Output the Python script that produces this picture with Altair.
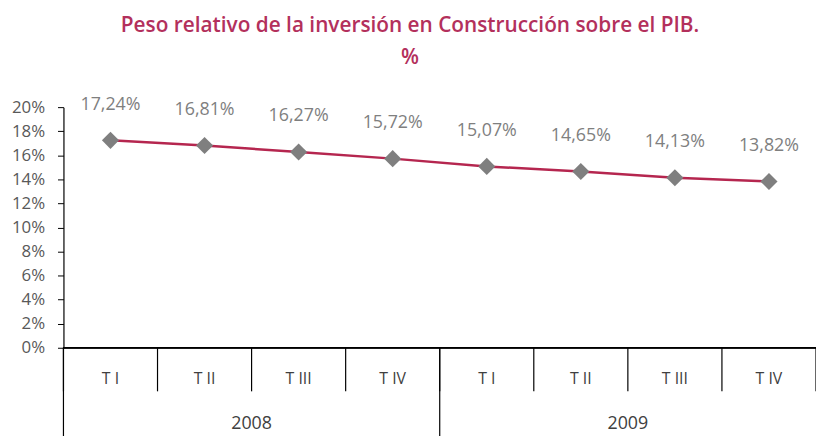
import altair as alt
import pandas as pd

quarters = ["T I", "T II", "T III", "T IV", "T I", "T II", "T III", "T IV"]
years = ["2008", "2008", "2008", "2008", "2009", "2009", "2009", "2009"]
values = [17.24, 16.81, 16.27, 15.72, 15.07, 14.65, 14.13, 13.82]
value_labels = ["17,24%", "16,81%", "16,27%", "15,72%", "15,07%", "14,65%", "14,13%", "13,82%"]
y_ticks = [0, 2, 4, 6, 8, 10, 12, 14, 16, 18, 20]
year_names = ["2008", "2009"]

n = len(quarters)
df = pd.DataFrame({"pos": [i + 0.5 for i in range(n)], "quarter": quarters, "year": years,
                   "value": values, "label": value_labels})
sep = pd.DataFrame({"pos": list(range(n + 1))})
ystart = pd.DataFrame({"pos": [float(years.index(y)) for y in year_names]})
ymid = pd.DataFrame({"pos": [years.index(y) + years.count(y) / 2 for y in year_names],
                     "year": year_names})

W, H = 760, 243
FONT = "Open Sans"

xs = alt.Scale(domain=[0, n], nice=False, zero=False)
ys = alt.Scale(domain=[0, 20])
X = alt.X("pos:Q", scale=xs, axis=None)
y_axis = alt.Axis(
    values=y_ticks, labelExpr="datum.value + '%'", grid=False, title=None,
    labelOverlap=False, labelFlush=False, labelBound=False,
    domainColor="#000000", tickColor="#000000", tickSize=6, labelPadding=13,
    labelColor="#595959", labelFontSize=17, labelFont=FONT, domainWidth=1.2)
Y = alt.Y("value:Q", scale=ys, axis=y_axis)

line = alt.Chart(df).mark_line(color="#B5264F", strokeWidth=2.5).encode(x=X, y=Y)

points = alt.Chart(df).mark_point(shape="diamond", filled=True, size=300, color="#7F7F7F", opacity=1).encode(
    x=X, y=Y)

labels = alt.Chart(df).mark_text(dy=-36, fontSize=18, color="#7F7F7F", font=FONT).encode(
    x=X, y=Y, text="label:N")

baseline = alt.Chart(df).mark_rule(color="#000000", strokeWidth=1.2).encode(
    x=alt.value(0), x2=alt.value(W), y=alt.value(H))

quarter_sep = alt.Chart(sep).mark_rule(color="#000000", strokeWidth=1.2).encode(
    x=X, y=alt.value(H), y2=alt.value(H + 44))

year_sep = alt.Chart(ystart).mark_rule(color="#000000", strokeWidth=1.2).encode(
    x=X, y=alt.value(H), y2=alt.value(H + 90))

quarter_text = alt.Chart(df).mark_text(fontSize=16, color="#404040", font=FONT).encode(
    x=X, y=alt.value(H + 32), text="quarter:N")

year_text = alt.Chart(ymid).mark_text(fontSize=18, color="#404040", font=FONT).encode(
    x=X, y=alt.value(H + 77), text="year:N")

chart = alt.layer(
    baseline, quarter_sep, year_sep, quarter_text, year_text, line, points, labels
).properties(
    width=W, height=H,
    title=alt.Title(
        text=["Peso relativo de la inversión en Construcción sobre el PIB.", "%"],
        anchor="middle", dx=-30, offset=28, color="#B3305C", fontSize=21,
        font=FONT, fontWeight=600, lineHeight=32),
    autosize=alt.AutoSizeParams(type="none"),
    padding={"left": 56, "top": 98, "right": 0, "bottom": 87},
).configure_view(stroke=None)

chart.save("out.html", embed_options={"renderer": "svg", "actions": False})
